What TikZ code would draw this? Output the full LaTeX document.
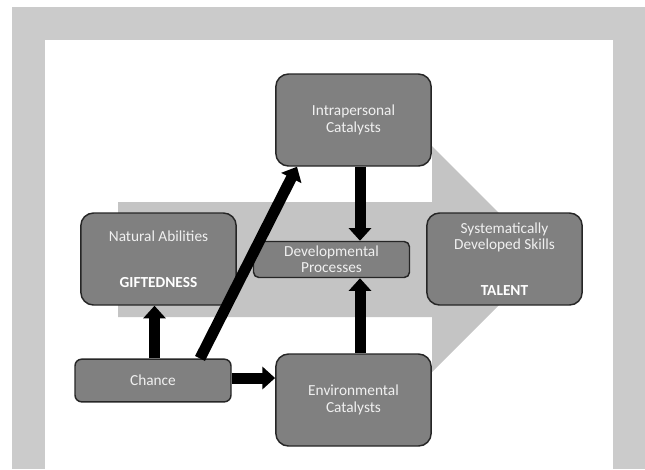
\documentclass[tikz,border=0pt]{standalone}
\usepackage{fontspec}
\setmainfont{Carlito}
\usetikzlibrary{arrows.meta}
\definecolor{outergray}{HTML}{CBCBCB}
\definecolor{flowgray}{HTML}{C4C4C4}
\definecolor{boxfill}{HTML}{808080}
\definecolor{boxline}{HTML}{262626}
\definecolor{boxtext}{HTML}{F0F0F0}
\begin{document}
\begin{tikzpicture}[x=0.75pt,y=-0.75pt,
  box/.style={draw=boxline, fill=boxfill, line width=1.1pt, text=boxtext,
    align=center, inner sep=0pt, font=\fontsize{11.5}{12.3}\selectfont},
  bigbox/.style={box, minimum width=116.5pt, minimum height=69pt, rounded corners=9.5pt},
  fat/.style={draw=black, line width=8.25pt, -{Triangle[width=16.5pt,length=9.5pt]}}]
\useasboundingbox (0,0) rectangle (645,469);
\fill[white] (0,0) rectangle (645,469);
\fill[outergray] (12,7) rectangle (645,469);
\fill[white] (45,40) rectangle (613,469);
% big background flow arrow
\fill[flowgray] (118,202) -- (432,202) -- (432,146) -- (545,259) -- (432,372) -- (432,317) -- (118,317) -- cycle;
% boxes
\node[bigbox] (intra) at (353.5,120) {Intrapersonal\\Catalysts};
\node[bigbox] (nat) at (158.5,259) {Natural Abilities\\[22pt]\textbf{\color{white}GIFTEDNESS}};
\node[bigbox] (talent) at (504.5,259) {Systematically\\Developed Skills\\[22pt]\textbf{\color{white}TALENT}};
\node[bigbox] (env) at (353.5,400) {Environmental\\Catalysts};
\node[box, minimum width=117pt, minimum height=27pt, rounded corners=4pt] (dev) at (331.5,259.5) {Developmental\\Processes};
\node[box, minimum width=117pt, minimum height=32pt, rounded corners=5pt] (chance) at (153,380.5) {Chance};
% guide coordinates
\coordinate (vx) at (360,0);
\coordinate (gx) at (154.5,0);
\coordinate (hy) at (0,378);
\coordinate (dx1) at (200,0);
\coordinate (dx2) at (297,0);
% connectors
\draw[fat] (intra.south -| vx) -- (dev.north -| vx);
\draw[fat] (env.north -| vx) -- (dev.south -| vx);
\draw[fat] (chance.north -| gx) -- (nat.south -| gx);
\draw[fat] (chance.east |- hy) -- (env.west |- hy);
\draw[fat] (chance.north -| dx1) -- (intra.south -| dx2);
\end{tikzpicture}
\end{document}
